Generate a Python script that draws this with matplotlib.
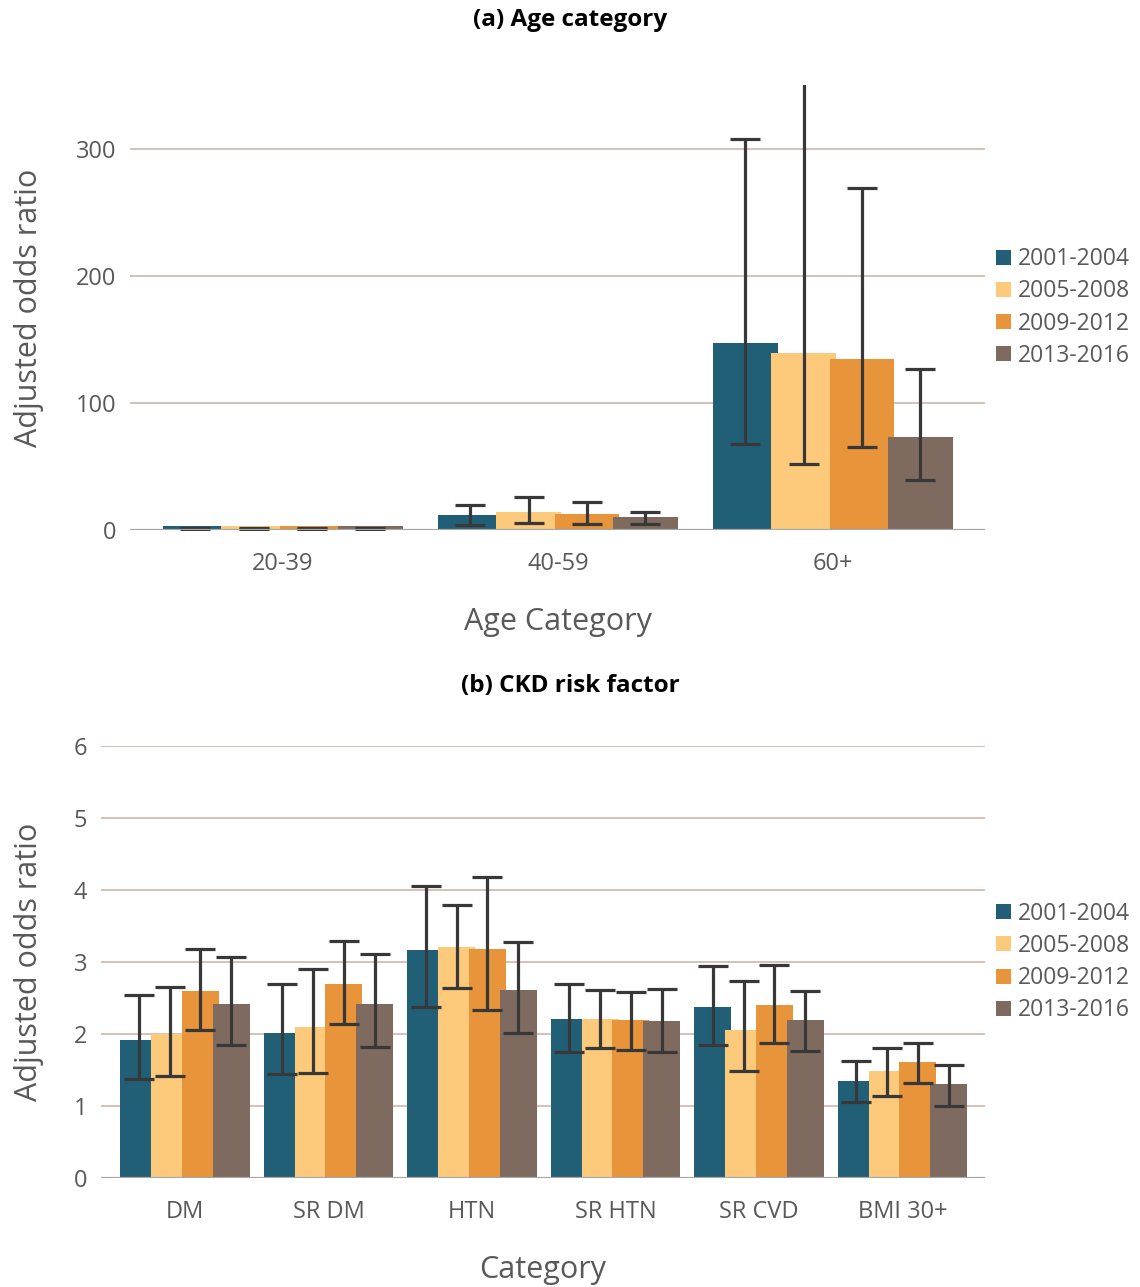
import numpy as np
import matplotlib.pyplot as plt

periods = ['2001-2004', '2005-2008', '2009-2012', '2013-2016']
colors = ['#215f77', '#fdc97a', '#e8943a', '#7f6a60']

# (a) age category: adjusted odds ratio with 95% CI
age_cats = ['20-39', '40-59', '60+']
age_or = [[3.4, 11.5, 147.0],
          [3.0, 14.1, 139.3],
          [3.0, 12.3, 134.8],
          [3.0, 9.9, 72.8]]
age_lo = [[1.0, 3.9, 67.5],
          [1.0, 5.2, 51.8],
          [1.0, 4.4, 64.9],
          [1.0, 4.4, 39.3]]
age_hi = [[1.2, 19.6, 307.6],
          [1.2, 26.2, 420.0],
          [1.2, 22.3, 268.6],
          [1.2, 14.4, 126.7]]

# (b) CKD risk factors
risk_cats = ['DM', 'SR DM', 'HTN', 'SR HTN', 'SR CVD', 'BMI 30+']
risk_or = [[1.92, 2.01, 3.16, 2.21, 2.38, 1.35],
           [2.00, 2.10, 3.21, 2.21, 2.06, 1.49],
           [2.60, 2.70, 3.18, 2.19, 2.40, 1.61],
           [2.42, 2.42, 2.61, 2.18, 2.19, 1.30]]
risk_lo = [[1.37, 1.44, 2.38, 1.75, 1.85, 1.06],
           [1.42, 1.46, 2.64, 1.80, 1.49, 1.14],
           [2.06, 2.14, 2.33, 1.78, 1.88, 1.32],
           [1.85, 1.82, 2.02, 1.75, 1.76, 1.00]]
risk_hi = [[2.54, 2.69, 4.06, 2.69, 2.94, 1.62],
           [2.65, 2.90, 3.79, 2.61, 2.74, 1.81],
           [3.18, 3.29, 4.18, 2.58, 2.96, 1.87],
           [3.07, 3.11, 3.28, 2.62, 2.60, 1.57]]

plt.rcParams['font.family'] = ['Open Sans', 'DejaVu Sans']
txt = '#595959'
grid_c = '#c9b2a7'

fig = plt.figure(figsize=(11.4, 12.87), dpi=100)


def draw_panel(ax, cats, vals, lo, hi, step, width, ylim, yticks, xlim, xlabel):
    x = np.arange(len(cats))
    for i in range(4):
        pos = x + (i - 1.5) * step
        ax.bar(pos, vals[i], width=width, color=colors[i], label=periods[i], zorder=2 + i)
    # confidence intervals drawn around the interval midpoint
    for i in range(4):
        pos = x + (i - 1.5) * step
        l = np.array(lo[i])
        h = np.array(hi[i])
        ax.errorbar(pos, (l + h) / 2, yerr=(h - l) / 2, fmt='none', ecolor='#383838',
                    elinewidth=2.3, capsize=11, capthick=2.3, zorder=10)
    ax.set_xlim(*xlim)
    ax.set_ylim(*ylim)
    ax.set_yticks(yticks)
    ax.set_xticks(x)
    ax.set_xticklabels(cats)
    for yv in yticks[1:]:
        ax.axhline(yv, color=grid_c, lw=1.1, zorder=1)
    ax.axhline(0, color='#a6a6a6', lw=1.6, zorder=12)
    for s in ax.spines.values():
        s.set_visible(False)
    ax.tick_params(axis='x', length=0, labelsize=17, colors=txt, pad=16)
    ax.tick_params(axis='y', length=0, labelsize=17, colors=txt, pad=10)
    ax.set_xlabel(xlabel, fontsize=22, color=txt, labelpad=22)
    ax.set_ylabel('Adjusted odds ratio', fontsize=22, color=txt)
    ax.legend(loc='center left', bbox_to_anchor=(1.0, 0.5), frameon=False,
              fontsize=16.5, handlelength=0.63, handleheight=0.63, borderpad=0,
              handletextpad=0.3, labelspacing=0.36, labelcolor=txt)


ax1 = fig.add_axes([0.114, 0.5882, 0.750, 0.3458])
draw_panel(ax1, age_cats, age_or, age_lo, age_hi, step=0.212, width=0.236,
           ylim=(0, 350), yticks=[0, 100, 200, 300], xlim=(-0.556, 2.553),
           xlabel='Age Category')
ax1.yaxis.set_label_coords(-0.100, 0.5)

ax2 = fig.add_axes([0.0886, 0.0847, 0.7754, 0.3357])
draw_panel(ax2, risk_cats, risk_or, risk_lo, risk_hi, step=0.214, width=0.258,
           ylim=(0, 6), yticks=[0, 1, 2, 3, 4, 5, 6], xlim=(-0.585, 5.575),
           xlabel='Category')
ax2.yaxis.set_label_coords(-0.064, 0.5)

fig.text(0.5, 0.9845, '(a) Age category', ha='center', va='center',
         fontsize=17.5, fontweight='bold', color='black')
fig.text(0.5, 0.467, '(b) CKD risk factor', ha='center', va='center',
         fontsize=17.5, fontweight='bold', color='black')

fig.savefig('out.png', dpi=100)
